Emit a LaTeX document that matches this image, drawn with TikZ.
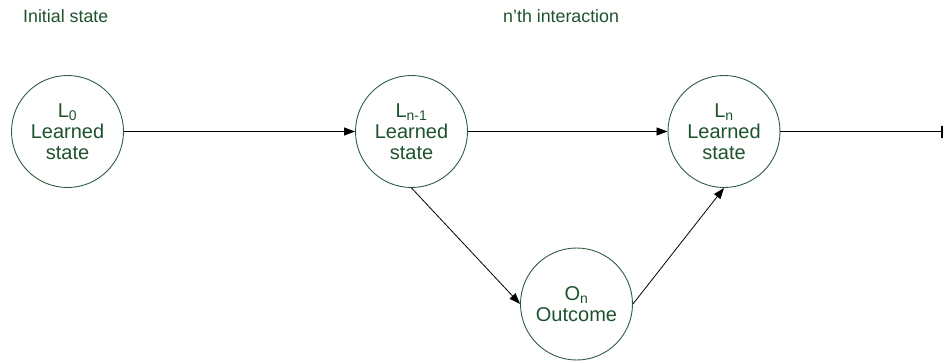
\documentclass[tikz,border=0pt]{standalone}
\usepackage{fontspec}
\setmainfont{Liberation Sans}
\usetikzlibrary{arrows.meta}
\definecolor{txtgreen}{RGB}{30,82,46}
\definecolor{circgreen}{RGB}{48,92,62}
\tikzset{
  statenode/.style={circle, draw=circgreen, line width=0.9pt, minimum size=112pt, inner sep=0pt,
    text=txtgreen, align=center, font=\fontsize{20}{21}\selectfont},
  toplabel/.style={anchor=base west, inner sep=0pt, text=txtgreen, font=\fontsize{17.8}{19}\selectfont},
  conn/.style={draw=black, line width=0.8pt, -{Triangle[length=11pt,width=8pt]}},
}
\begin{document}
\begin{tikzpicture}[x=1pt,y=-1pt]
\useasboundingbox (0,0) rectangle (944,362);
\node[toplabel] (init) at (23,22.5) {Initial state};
\node[toplabel] (nth) at (503,22.5) {n’th interaction};
\node[statenode] (L0) at (67.5,131.5) {L\textsubscript{0}\\Learned\\state};
\node[statenode] (Ln1) at (411.5,131.5) {L\textsubscript{n-1}\\Learned\\state};
\node[statenode] (Ln) at (724,131.5) {L\textsubscript{n}\\Learned\\state};
\node[statenode] (On) at (576.5,304) {O\textsubscript{n}\\Outcome};
\coordinate (endpt) at (943,131.5);
\draw[conn] (L0) -- (Ln1);
\draw[conn] (Ln1) -- (Ln);
\draw[conn] (Ln1.south) -- (On.west);
\draw[conn] (On.east) -- (Ln.south);
\draw[line width=0.8pt, -{Bar[width=12pt,line width=1.6pt]}] (Ln) -- (endpt);
\end{tikzpicture}
\end{document}
